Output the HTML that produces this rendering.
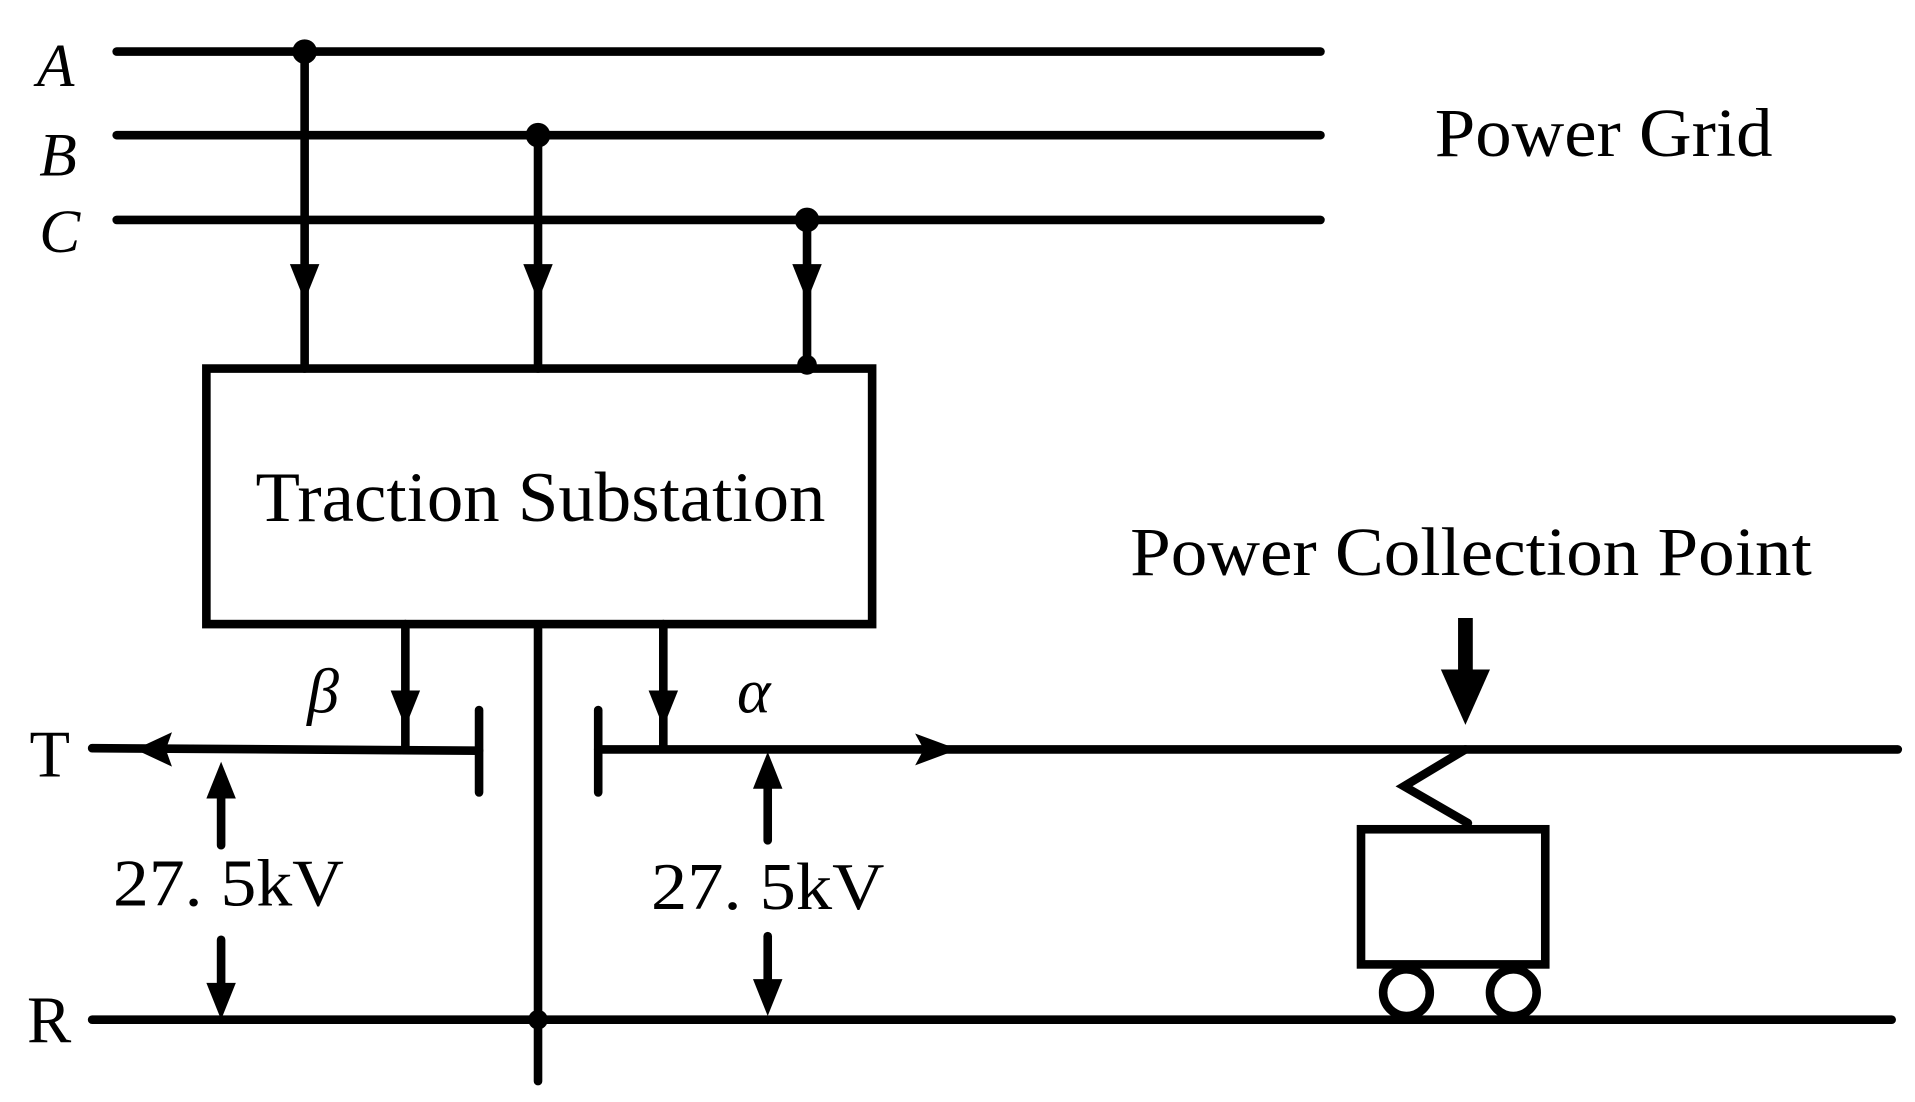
<!DOCTYPE html>
<html><head><meta charset="utf-8"><style>
html,body{margin:0;padding:0;background:#fff;}
svg{display:block;}
text{font-family:"Liberation Serif",serif;fill:#000;}
</style></head><body>
<svg width="1915" height="1102" viewBox="0 0 1559 897" preserveAspectRatio="none" xmlns="http://www.w3.org/2000/svg">
<g stroke="#000" stroke-width="7" stroke-linecap="round" fill="none">
<line x1="95" y1="42" x2="1075" y2="42"/>
<line x1="95" y1="110" x2="1075" y2="110"/>
<line x1="95" y1="179" x2="1075" y2="179"/>
<line x1="248" y1="42" x2="248" y2="300"/>
<line x1="438" y1="110" x2="438" y2="300"/>
<line x1="657" y1="179" x2="657" y2="300"/>
<rect x="168" y="300" width="542" height="208"/>
<line x1="330" y1="508" x2="330" y2="608"/>
<line x1="540" y1="508" x2="540" y2="608"/>
<line x1="438" y1="512" x2="438" y2="880"/>
<line x1="75" y1="609" x2="390" y2="611"/>
<line x1="390" y1="578" x2="390" y2="645"/>
<line x1="487" y1="578" x2="487" y2="645"/>
<line x1="487" y1="610" x2="1545" y2="610"/>
<line x1="75" y1="830" x2="1540" y2="830"/>
<line x1="180" y1="640" x2="180" y2="688"/>
<line x1="180" y1="765" x2="180" y2="810"/>
<line x1="625" y1="635" x2="625" y2="684"/>
<line x1="625" y1="762" x2="625" y2="805"/>
<polyline points="1193,610 1143,640 1195,670"/>
<rect x="1108" y="675" width="150" height="110"/>
<circle cx="1145" cy="808" r="19"/>
<circle cx="1232" cy="808" r="19"/>
<line x1="1193" y1="503" x2="1193" y2="550" stroke-width="12" stroke-linecap="butt"/>
</g>
<g fill="#000">
<circle cx="248" cy="42" r="10"/><circle cx="438" cy="110" r="10"/><circle cx="657" cy="179" r="10"/>
<circle cx="657" cy="297" r="8"/><circle cx="438" cy="830" r="8"/>
<polygon points="236,215 260,215 248,245"/>
<polygon points="426,215 450,215 438,245"/>
<polygon points="645,215 669,215 657,245"/>
<polygon points="318,562 342,562 330,592"/>
<polygon points="528,562 552,562 540,592"/>
<polygon points="110,610 140,596 135,610 140,624"/>
<polygon points="780,610 745,597 752,610 745,623"/>
<polygon points="180,620 168,650 192,650"/>
<polygon points="180,830 168,800 192,800"/>
<polygon points="625,612 613,642 637,642"/>
<polygon points="625,827 613,797 637,797"/>
<polygon points="1173,545 1213,545 1193,590"/>
<text x="30" y="70" font-size="50" font-style="italic">A</text>
<text x="32" y="143" font-size="50" font-style="italic">B</text>
<text x="32" y="205" font-size="50" font-style="italic">C</text>
<text x="1168" y="127" font-size="56" textLength="275" lengthAdjust="spacingAndGlyphs">Power Grid</text>
<text x="208" y="424" font-size="58" textLength="464" lengthAdjust="spacingAndGlyphs">Traction Substation</text>
<text x="920" y="468" font-size="56" textLength="555" lengthAdjust="spacingAndGlyphs">Power Collection Point</text>
<text x="250" y="580" font-size="52" font-style="italic">β</text>
<text x="600" y="580" font-size="52" font-style="italic">α</text>
<text x="24" y="632" font-size="54">T</text>
<text x="22" y="848" font-size="54">R</text>
<text x="92" y="737" font-size="54" textLength="188" lengthAdjust="spacingAndGlyphs">27. 5kV</text>
<text x="530" y="740" font-size="54" textLength="190" lengthAdjust="spacingAndGlyphs">27. 5kV</text>
</g>
</svg>
</body></html>
